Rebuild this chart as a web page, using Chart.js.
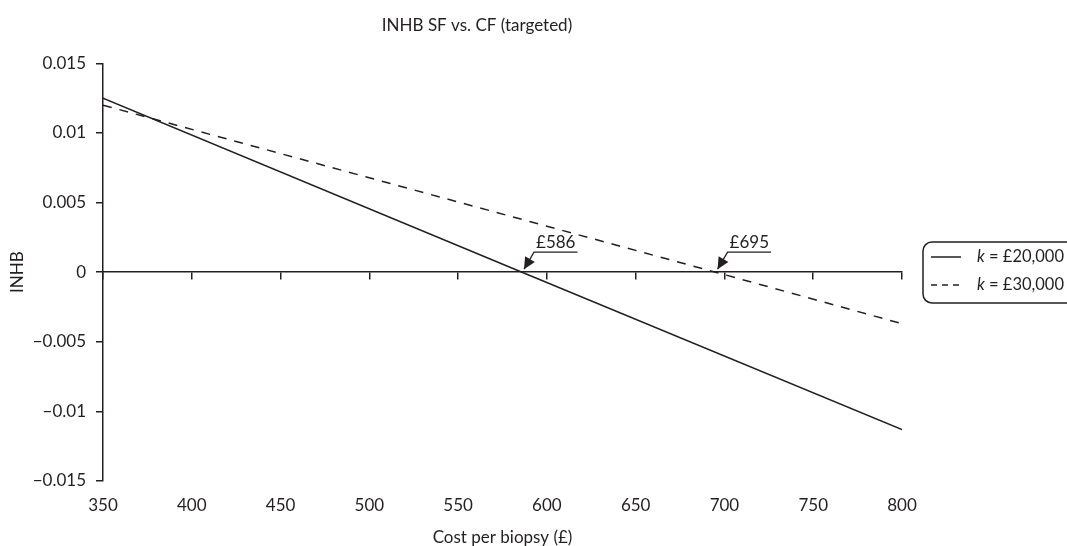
<!DOCTYPE html>
<html lang="en">
<head>
    <meta charset="UTF-8">
    <title>INHB SF vs. CF (targeted)</title>
    <script src="https://cdn.jsdelivr.net/npm/chart.js"></script>
    <style>
        html, body { margin: 0; padding: 0; background: #fff; }
    </style>
</head>
<body>
    <canvas id="inhbChart" width="1067" height="546"></canvas>

    <script>
        // values
        const costs20k = [350, 586, 800];
        const inhb20k = [0.0125, 0, -0.0113];
        const costs30k = [350, 695, 800];
        const inhb30k = [0.0120, 0, -0.0037];
        const seriesLabels = ['k = £20,000', 'k = £30,000'];

        const xTickValues = [350, 400, 450, 500, 550, 600, 650, 700, 750, 800];
        const yTickValues = [-0.015, -0.01, -0.005, 0, 0.005, 0.01, 0.015];
        const yTickLabels = ['\u22120.015', '\u22120.01', '\u22120.005', '0', '0.005', '0.01', '0.015'];

        const thresholdCosts = [586, 695];
        const thresholdLabels = ['£586', '£695'];

        const ink = '#231f20';
        const fontFamily = 'Lato, "Open Sans", sans-serif';
        Chart.defaults.font.family = fontFamily;
        Chart.defaults.font.size = 17;
        Chart.defaults.color = ink;

        function toPoints(xs, ys) {
            return xs.map((x, i) => ({ x: x, y: ys[i] }));
        }

        function setTicks(values) {
            return function (scale) {
                scale.ticks = values.map(v => ({ value: v }));
            };
        }

        // arrows pointing at the break-even costs
        const thresholdPlugin = {
            id: 'thresholds',
            afterDatasetsDraw(chart) {
                const ctx = chart.ctx;
                const xs = chart.scales.x;
                const ys = chart.scales.y;
                ctx.save();
                ctx.strokeStyle = ink;
                ctx.fillStyle = ink;
                ctx.lineWidth = 1.3;
                thresholdCosts.forEach((c, i) => {
                    const tipX = xs.getPixelForValue(c) + 2;
                    const tipY = ys.getPixelForValue(0) - 3;
                    const elbowX = tipX + 10;
                    const elbowY = tipY - 17;
                    ctx.font = '17px ' + fontFamily;
                    const w = ctx.measureText(thresholdLabels[i]).width;

                    ctx.beginPath();
                    ctx.moveTo(tipX, tipY);
                    ctx.lineTo(elbowX, elbowY);
                    ctx.lineTo(elbowX + w + 4, elbowY);
                    ctx.stroke();

                    // arrow head
                    const ang = Math.atan2(tipY - elbowY, tipX - elbowX);
                    const len = 13, half = 0.45;
                    ctx.beginPath();
                    ctx.moveTo(tipX, tipY);
                    ctx.lineTo(tipX - len * Math.cos(ang - half), tipY - len * Math.sin(ang - half));
                    ctx.lineTo(tipX - len * Math.cos(ang + half), tipY - len * Math.sin(ang + half));
                    ctx.closePath();
                    ctx.fill();

                    ctx.textAlign = 'left';
                    ctx.textBaseline = 'alphabetic';
                    ctx.fillText(thresholdLabels[i], elbowX + 2, elbowY - 4);
                });
                ctx.restore();
            }
        };

        // rounded legend box on the right
        const boxLegendPlugin = {
            id: 'boxLegend',
            afterDraw(chart) {
                const ctx = chart.ctx;
                const left = chart.chartArea.right + 21;
                const top = 242;
                const rowH = 28;
                ctx.save();
                ctx.strokeStyle = ink;
                ctx.lineWidth = 1.5;
                ctx.beginPath();
                ctx.roundRect(left, top, 190, 61, 9);
                ctx.stroke();

                chart.data.datasets.forEach((ds, i) => {
                    const y = top + 15 + i * rowH;
                    ctx.setLineDash(ds.borderDash ? [6, 5] : []);
                    ctx.lineWidth = 1.5;
                    ctx.beginPath();
                    ctx.moveTo(left + 8, y);
                    ctx.lineTo(left + 38, y);
                    ctx.stroke();
                    ctx.setLineDash([]);

                    const label = ds.label;
                    ctx.fillStyle = ink;
                    ctx.textBaseline = 'middle';
                    ctx.font = 'italic 16.5px ' + fontFamily;
                    ctx.fillText(label.charAt(0), left + 54, y);
                    const kw = ctx.measureText(label.charAt(0)).width;
                    ctx.font = '16.5px ' + fontFamily;
                    ctx.fillText(label.slice(1), left + 54 + kw, y);
                });
                ctx.restore();
            }
        };

        const ctx = document.getElementById('inhbChart').getContext('2d');
        const inhbChart = new Chart(ctx, {
            type: 'line',
            data: {
                datasets: [{
                    label: seriesLabels[0],
                    data: toPoints(costs20k, inhb20k),
                    borderColor: ink,
                    borderWidth: 1.5,
                    pointRadius: 0,
                    fill: false
                }, {
                    label: seriesLabels[1],
                    data: toPoints(costs30k, inhb30k),
                    borderColor: ink,
                    borderWidth: 1.5,
                    borderDash: [9, 8],
                    pointRadius: 0,
                    fill: false
                }]
            },
            options: {
                responsive: false,
                animation: false,
                layout: { padding: { left: 0, right: 113, top: 0, bottom: 0 } },
                plugins: {
                    legend: { display: false },
                    tooltip: { enabled: false },
                    title: {
                        display: true,
                        text: 'INHB SF vs. CF (targeted)',
                        color: ink,
                        font: { size: 17, weight: 'normal' },
                        padding: { top: 15, bottom: 28 }
                    }
                },
                scales: {
                    x: {
                        type: 'linear',
                        position: 'bottom',
                        min: 350,
                        max: 800,
                        afterBuildTicks: setTicks(xTickValues),
                        grid: { display: false, drawTicks: false },
                        border: { display: false },
                        ticks: { padding: 14, maxRotation: 0 },
                        title: {
                            display: true,
                            text: 'Cost per biopsy (£)',
                            padding: { top: 0, bottom: -2 }
                        },
                        afterFit(scale) { scale.height = 65; }
                    },
                    x2: {
                        type: 'linear',
                        axis: 'x',
                        position: { y: 0 },
                        min: 350,
                        max: 800,
                        afterBuildTicks: setTicks(xTickValues),
                        ticks: { display: false },
                        grid: {
                            drawOnChartArea: false,
                            drawTicks: true,
                            tickLength: 7,
                            color: ink,
                            lineWidth: 1.5
                        },
                        border: { color: ink, width: 1.5 }
                    },
                    y: {
                        type: 'linear',
                        position: 'left',
                        min: -0.015,
                        max: 0.015,
                        afterBuildTicks: setTicks(yTickValues),
                        ticks: {
                            padding: 10,
                            callback: function (value) {
                                const i = yTickValues.findIndex(v => Math.abs(v - value) < 1e-9);
                                return i >= 0 ? yTickLabels[i] : '';
                            }
                        },
                        grid: {
                            drawOnChartArea: false,
                            drawTicks: true,
                            tickLength: 7,
                            color: ink,
                            lineWidth: 1.5
                        },
                        border: { color: ink, width: 1.5 },
                        title: {
                            display: true,
                            text: 'INHB',
                            padding: { top: 7, bottom: 0 }
                        },
                        afterFit(scale) { scale.width = 103; }
                    },
                    // empty spacer so the title centres like the original
                    spacer: {
                        type: 'linear',
                        axis: 'y',
                        position: 'right',
                        min: 0,
                        max: 1,
                        ticks: { display: false },
                        grid: { display: false, drawTicks: false },
                        border: { display: false },
                        afterFit(scale) { scale.width = 52; }
                    }
                }
            },
            plugins: [thresholdPlugin, boxLegendPlugin]
        });
    </script>
</body>
</html>
